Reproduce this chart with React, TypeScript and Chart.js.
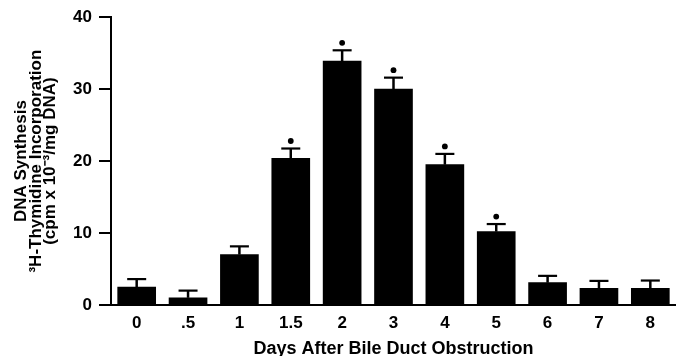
import React, { useEffect, useRef } from "react";
import { Chart, registerables } from "chart.js";

Chart.register(...registerables);

const days = ["0", ".5", "1", "1.5", "2", "3", "4", "5", "6", "7", "8"];
const dnaSynthesis = [2.5, 1.0, 7.0, 20.4, 33.9, 30.0, 19.5, 10.2, 3.1, 2.3, 2.3];
const semErrors = [1.1, 1.0, 1.15, 1.35, 1.5, 1.6, 1.5, 1.05, 0.95, 1.05, 1.1];
const significant = [false, false, false, true, true, true, true, true, false, false, false];
const yTicks = [0, 10, 20, 30, 40];

const FONT = "'Liberation Sans', Arial, Helvetica, sans-serif";

const errorBarPlugin = {
  id: "errorBars",
  afterDatasetsDraw(chart: any) {
    const ctx = chart.ctx;
    const meta = chart.getDatasetMeta(0);
    const yScale = chart.scales.y;
    ctx.save();
    ctx.strokeStyle = "#000";
    ctx.fillStyle = "#000";
    meta.data.forEach((bar: any, i: number) => {
      const x = bar.x;
      const yTop = yScale.getPixelForValue(dnaSynthesis[i]);
      const yCap = yScale.getPixelForValue(dnaSynthesis[i] + semErrors[i]);
      ctx.lineWidth = 2.5;
      ctx.beginPath();
      ctx.moveTo(x, yTop);
      ctx.lineTo(x, yCap);
      ctx.stroke();
      ctx.lineWidth = 2.2;
      ctx.beginPath();
      ctx.moveTo(x - 9.5, yCap);
      ctx.lineTo(x + 9.5, yCap);
      ctx.stroke();
      if (significant[i]) {
        ctx.beginPath();
        ctx.arc(x, yCap - 7.5, 2.9, 0, Math.PI * 2);
        ctx.fill();
      }
    });
    ctx.restore();
  },
};

export default function App() {
  const ref = useRef<HTMLCanvasElement | null>(null);
  useEffect(() => {
    if (!ref.current) return;
    const chart = new Chart(ref.current, {
      type: "bar",
      data: {
        labels: days,
        datasets: [
          {
            data: dnaSynthesis,
            backgroundColor: "#000",
            borderWidth: 0,
            barThickness: 38,
          },
        ],
      },
      options: {
        animation: false,
        responsive: false,
        devicePixelRatio: 1,
        layout: { padding: { top: 16, right: 0, bottom: 0, left: 0 } },
        plugins: { legend: { display: false }, tooltip: { enabled: false } },
        scales: {
          x: {
            offset: true,
            grid: { display: false, drawTicks: false },
            border: { display: true, color: "#000", width: 2 },
            ticks: {
              color: "#000",
              padding: 8,
              font: { family: FONT, size: 17, weight: "bold" },
              maxRotation: 0,
              autoSkip: false,
            },
            title: {
              display: true,
              text: "Days After Bile Duct Obstruction",
              color: "#000",
              font: { family: FONT, size: 18, weight: "bold", lineHeight: 0.8 },
              padding: { top: 0, bottom: 0 },
            },
            afterFit(scale: any) {
              scale.height = 51;
            },
          },
          y: {
            min: 0,
            max: 40,
            afterBuildTicks(scale: any) {
              scale.ticks = yTicks.map((v) => ({ value: v }));
            },
            grid: {
              display: true,
              drawOnChartArea: false,
              drawTicks: true,
              tickLength: 12,
              color: "#000",
              lineWidth: 2,
            },
            border: { display: true, color: "#000", width: 2 },
            ticks: {
              color: "#000",
              padding: 7,
              font: { family: FONT, size: 17, weight: "bold" },
            },
            title: {
              display: true,
              text: [
                "DNA Synthesis",
                "³H-Thymidine Incorporation",
                "(cpm x 10⁻³/mg DNA)",
              ],
              color: "#000",
              font: { family: FONT, size: 17, weight: "bold", lineHeight: 0.86 },
              padding: { top: 14, bottom: 0 },
            },
            afterFit(scale: any) {
              scale.width = 111;
            },
          },
        },
      },
      plugins: [errorBarPlugin],
    } as any);
    return () => chart.destroy();
  }, []);
  return (
    <div style={{ position: "fixed", left: 0, top: 0, width: 676, height: 356, background: "#fff" }}>
      <canvas ref={ref} width={676} height={356} style={{ display: "block" }} />
    </div>
  );
}
